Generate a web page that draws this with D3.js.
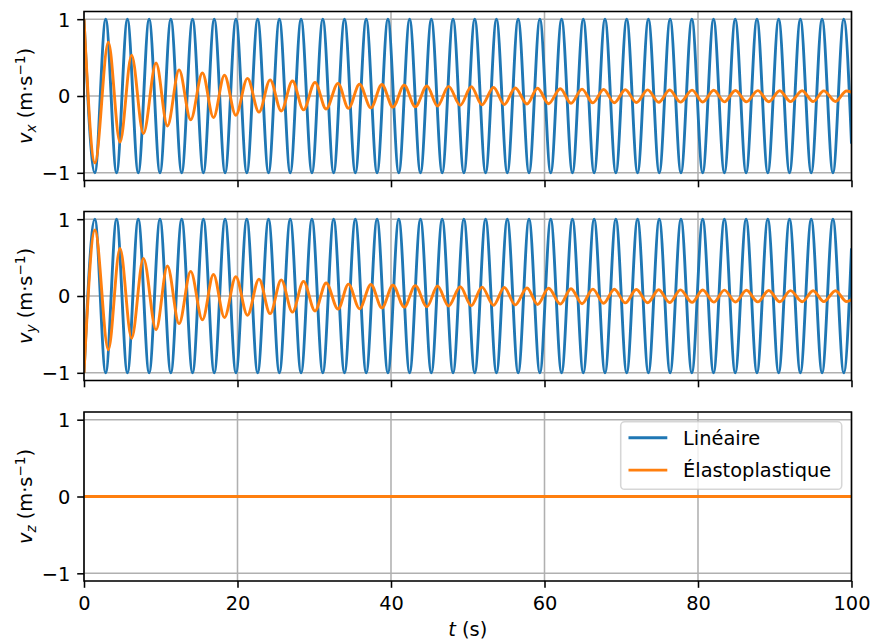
<!DOCTYPE html>
<html><head><meta charset="utf-8">
<script src="https://cdn.jsdelivr.net/npm/d3@7"></script>
<style>
body{margin:0;background:#fff}
svg{display:block}
text{font-family:"DejaVu Sans",sans-serif;fill:#000}
</style>
</head><body>
<svg id="c" width="872" height="642"></svg>
<script>
// ---------- data (extrema, t in s) ----------
const linT = [0, 1.414, 2.828, 4.243, 5.657, 7.071, 8.485, 9.899, 11.314, 12.728,
  14.142, 15.556, 16.971, 18.385, 19.799, 21.213, 22.627, 24.042, 25.456, 26.870,
  28.284, 29.698, 31.113, 32.527, 33.941, 35.355, 36.770, 38.184, 39.598, 41.012,
  42.426, 43.841, 45.255, 46.669, 48.083, 49.497, 50.912, 52.326, 53.740, 55.154,
  56.569, 57.983, 59.397, 60.811, 62.225, 63.640, 65.054, 66.468, 67.882, 69.296,
  70.711, 72.125, 73.539, 74.953, 76.368, 77.782, 79.196, 80.610, 82.024, 83.439,
  84.853, 86.267, 87.681, 89.095, 90.510, 91.924, 93.338, 94.752, 96.167, 97.581,
  98.995, 100];
const linVx = [1, -1, 1, -1, 1, -1, 1, -1, 1, -1,
  1, -1, 1, -1, 1, -1, 1, -1, 1, -1,
  1, -1, 1, -1, 1, -1, 1, -1, 1, -1,
  1, -1, 1, -1, 1, -1, 1, -1, 1, -1,
  1, -1, 1, -1, 1, -1, 1, -1, 1, -1,
  1, -1, 1, -1, 1, -1, 1, -1, 1, -1,
  1, -1, 1, -1, 1, -1, 1, -1, 1, -1,
  1, -0.62];
const linVy = [-1, 1, -1, 1, -1, 1, -1, 1, -1, 1,
  -1, 1, -1, 1, -1, 1, -1, 1, -1, 1,
  -1, 1, -1, 1, -1, 1, -1, 1, -1, 1,
  -1, 1, -1, 1, -1, 1, -1, 1, -1, 1,
  -1, 1, -1, 1, -1, 1, -1, 1, -1, 1,
  -1, 1, -1, 1, -1, 1, -1, 1, -1, 1,
  -1, 1, -1, 1, -1, 1, -1, 1, -1, 1,
  -1, 0.62];
const elaT = [0, 1.43, 3.17, 4.69, 6.2, 7.74, 9.39, 10.87, 12.39, 13.9, 15.43, 16.87,
  18.3, 19.78, 21.3, 22.8, 24.25, 25.7, 27.16, 28.6, 30.1, 31.55, 33.1,
  34.46, 35.9, 37.38, 38.81, 40.25, 41.72, 43.16, 44.68, 46.06, 47.5, 49.02,
  50.46, 51.85, 53.36, 54.76, 56.19, 57.72, 59.1, 60.54, 62.06, 63.45, 64.89,
  66.3, 67.7, 69.1, 70.53, 71.97, 73.44, 74.88, 76.31, 77.71, 79.23, 80.61,
  82.05, 83.44, 84.88, 86.31, 87.79, 89.22, 90.65, 92.05, 93.57, 95.0, 96.39,
  97.92, 99.35, 100];
const elaVx = [1, -0.87, 0.70, -0.60, 0.53, -0.49, 0.43, -0.39, 0.34, -0.31, 0.30, -0.28,
  0.27, -0.25, 0.23, -0.21, 0.21, -0.195, 0.195, -0.18, 0.178, -0.17, 0.165,
  -0.16, 0.152, -0.155, 0.15, -0.145, 0.14, -0.14, 0.13, -0.13, 0.125, -0.12,
  0.12, -0.115, 0.11, -0.11, 0.105, -0.105, 0.10, -0.10, 0.095, -0.095, 0.09,
  -0.09, 0.085, -0.088, 0.082, -0.085, 0.08, -0.082, 0.078, -0.08, 0.076, -0.078,
  0.074, -0.076, 0.072, -0.075, 0.07, -0.074, 0.069, -0.073, 0.068, -0.072, 0.067,
  -0.071, 0.066, 0.05];
const elaVy = [-1, 0.86, -0.70, 0.62, -0.55, 0.49, -0.44, 0.39, -0.36, 0.32, -0.31, 0.28,
  -0.28, 0.25, -0.25, 0.22, -0.23, 0.21, -0.21, 0.19, -0.195, 0.17, -0.17,
  0.155, -0.165, 0.15, -0.155, 0.14, -0.145, 0.135, -0.14, 0.13, -0.13, 0.12,
  -0.125, 0.115, -0.12, 0.11, -0.115, 0.105, -0.11, 0.10, -0.105, 0.095, -0.10,
  0.09, -0.095, 0.088, -0.09, 0.085, -0.088, 0.082, -0.085, 0.08, -0.083, 0.078,
  -0.08, 0.076, -0.078, 0.074, -0.077, 0.072, -0.075, 0.07, -0.074, 0.069, -0.073,
  0.068, -0.072, -0.05];
const vzT = [0, 100];
const linVz = [0, 0];
const elaVz = [0, 0];

const xTicks = [0, 20, 40, 60, 80, 100];
const yTicks = [-1, 0, 1];
const yTickLabels = ["−1", "0", "1"];
const seriesNames = ["Linéaire", "Élastoplastique"];
const components = ["x", "y", "z"];
const xLabel = "t";

// ---------- layout ----------
const FS = 19.4;
const colors = ["#1f77b4", "#ff7f0e"];
const left = 84, right = 851.5, ph = 169;
const tops = [11.5, 211.5, 412];
const tick = 6.8, pad = 6.8;

const panelData = [
  {lin: [linT, linVx], ela: [elaT, elaVx]},
  {lin: [linT, linVy], ela: [elaT, elaVy]},
  {lin: [vzT, linVz], ela: [vzT, elaVz]}
];

const svg = d3.select("#c");
const x = d3.scaleLinear().domain([0, 100]).range([left, right]);

panelData.forEach((pd, i) => {
  const top = tops[i];
  const y = d3.scaleLinear().domain([-1.1, 1.1]).range([top + ph, top]);
  const g = svg.append("g");
  const clipId = "clip" + i;
  svg.append("clipPath").attr("id", clipId).append("rect")
    .attr("x", left).attr("y", top).attr("width", right - left).attr("height", ph);

  // grid
  g.append("g").selectAll("line").data(xTicks).join("line")
    .attr("x1", d => x(d)).attr("x2", d => x(d)).attr("y1", top).attr("y2", top + ph)
    .attr("stroke", "#b0b0b0").attr("stroke-width", 1.55);
  g.append("g").selectAll("line").data(yTicks).join("line")
    .attr("x1", left).attr("x2", right).attr("y1", d => y(d)).attr("y2", d => y(d))
    .attr("stroke", "#b0b0b0").attr("stroke-width", 1.55);

  // lines
  const line = d3.line().x(d => x(d[0])).y(d => y(d[1])).curve(d3.curveMonotoneX);
  [pd.lin, pd.ela].forEach((s, k) => {
    const pts = d3.zip(s[0], s[1]);
    g.append("path").datum(pts).attr("d", line)
      .attr("fill", "none").attr("stroke", colors[k]).attr("stroke-width", 2.9)
      .attr("stroke-linejoin", "round").attr("stroke-linecap", "butt")
      .attr("clip-path", `url(#${clipId})`);
  });

  // spines
  g.append("rect").attr("x", left).attr("y", top).attr("width", right - left).attr("height", ph)
    .attr("fill", "none").attr("stroke", "#000").attr("stroke-width", 1.55);

  // y axis
  const ya = g.append("g").attr("transform", `translate(${left},0)`)
    .call(d3.axisLeft(y).tickValues(yTicks).tickSize(tick).tickPadding(pad)
      .tickFormat(d => yTickLabels[yTicks.indexOf(d)]));
  ya.select(".domain").remove();
  ya.selectAll(".tick line").attr("stroke", "#000").attr("stroke-width", 1.55);
  ya.selectAll(".tick text").attr("font-size", FS).attr("font-family", "DejaVu Sans").attr("dy", "0.36em");

  // x axis
  const xa = g.append("g").attr("transform", `translate(0,${top + ph})`)
    .call(d3.axisBottom(x).tickValues(xTicks).tickSize(tick).tickPadding(pad)
      .tickFormat(i === 2 ? d3.format("d") : () => ""));
  xa.select(".domain").remove();
  xa.selectAll(".tick line").attr("stroke", "#000").attr("stroke-width", 1.55);
  xa.selectAll(".tick text").attr("font-size", FS).attr("font-family", "DejaVu Sans").attr("dy", "0.78em");

  // y label
  const yl = svg.append("text")
    .attr("transform", `translate(32,${top + ph / 2}) rotate(-90)`)
    .attr("text-anchor", "middle").attr("font-size", FS);
  yl.append("tspan").attr("font-style", "italic").text("v");
  yl.append("tspan").attr("font-style", "italic").attr("font-size", FS * 0.7).attr("dy", 4).text(components[i]);
  yl.append("tspan").attr("dy", -4).text(" (m·s");
  yl.append("tspan").attr("font-size", FS * 0.7).attr("dy", -7.5).text("−1");
  yl.append("tspan").attr("dy", 7.5).text(")");

  // legend on the last panel
  if (i === 2) {
    const lg = svg.append("g");
    lg.append("rect").attr("x", 620.7).attr("y", 421.8).attr("width", 221).attr("height", 67.5)
      .attr("rx", 3.9).attr("fill", "#fff").attr("fill-opacity", 0.8)
      .attr("stroke", "#cccccc").attr("stroke-opacity", 0.8).attr("stroke-width", 1.55);
    seriesNames.forEach((name, k) => {
      const ly = 437.8 + k * 32.3;
      lg.append("line").attr("x1", 628.5).attr("x2", 667.3).attr("y1", ly).attr("y2", ly)
        .attr("stroke", colors[k]).attr("stroke-width", 2.9);
      lg.append("text").attr("x", 683).attr("y", ly + 7).attr("font-size", FS).text(name);
    });
  }
});

// x label
const xl = svg.append("text").attr("x", (left + right) / 2).attr("y", 636)
  .attr("text-anchor", "middle").attr("font-size", FS);
xl.append("tspan").attr("font-style", "italic").text(xLabel);
xl.append("tspan").text(" (s)");
</script>
</body></html>
